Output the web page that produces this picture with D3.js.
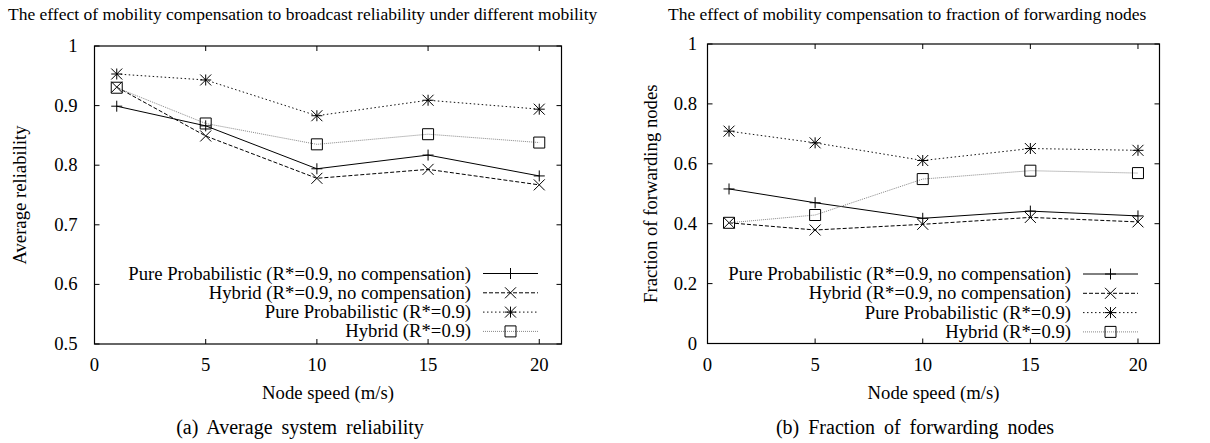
<!DOCTYPE html>
<html>
<head>
<meta charset="utf-8">
<script src="https://cdn.jsdelivr.net/npm/d3@7"></script>
<style>
  body { margin: 0; background: #fff; }
</style>
</head>
<body>
<svg id="chart" width="1210" height="443" font-family="'Liberation Serif', 'Times New Roman', Times, 'DejaVu Serif', serif"></svg>
<script>
// node speed (m/s)
const speeds = [1, 5, 10, 15, 20];

const seriesNames = [
    "Pure Probabilistic (R*=0.9, no compensation)",
    "Hybrid (R*=0.9, no compensation)",
    "Pure Probabilistic (R*=0.9)",
    "Hybrid (R*=0.9)"
];

// (a) average reliability
const relPureNoComp   = [0.899, 0.866, 0.794, 0.817, 0.782];
const relHybridNoComp = [0.931, 0.849, 0.778, 0.793, 0.767];
const relPureComp     = [0.953, 0.943, 0.883, 0.909, 0.894];
const relHybridComp   = [0.930, 0.870, 0.835, 0.852, 0.838];

// (b) fraction of forwarding nodes
const fwdPureNoComp   = [0.516, 0.470, 0.418, 0.442, 0.426];
const fwdHybridNoComp = [0.403, 0.379, 0.398, 0.421, 0.406];
const fwdPureComp     = [0.709, 0.670, 0.611, 0.651, 0.645];
const fwdHybridComp   = [0.403, 0.429, 0.549, 0.577, 0.569];

const xTicks = [0, 5, 10, 15, 20];
const relTicks = [0.5, 0.6, 0.7, 0.8, 0.9, 1];
const fwdTicks = [0, 0.2, 0.4, 0.6, 0.8, 1];

const styles = [
    {marker: "plus",   dash: null,  color: "#000"},
    {marker: "cross",  dash: "4,2", color: "#000"},
    {marker: "star",   dash: "1.5,2.5", color: "#111"},
    {marker: "square", dash: "1,1", color: "#888"}
];

const FS = "18.7px";

function markerPath(type, x, y) {
    const s = 5.5;
    const p = d3.path();
    if (type === "plus" || type === "star") {
        p.moveTo(x - s, y); p.lineTo(x + s, y);
        p.moveTo(x, y - s); p.lineTo(x, y + s);
    }
    if (type === "cross" || type === "star") {
        p.moveTo(x - s, y - s); p.lineTo(x + s, y + s);
        p.moveTo(x - s, y + s); p.lineTo(x + s, y - s);
    }
    if (type === "square") {
        p.rect(x - s, y - s, 2 * s, 2 * s);
    }
    return p.toString();
}

function drawPanel(svg, area, cfg) {
    const scaleX = d3.scaleLinear().domain([0, 21]).range([area.left, area.right]);
    const scaleY = d3.scaleLinear().domain(cfg.yDomain).range([area.bottom, area.top]);
    const g = svg.append("g");

    // ticks (gnuplot style: inward, mirrored)
    const tl = 5;
    cfg.yTicks.forEach(t => {
        g.append("line").attr("x1", area.left).attr("x2", area.left + tl)
            .attr("y1", scaleY(t)).attr("y2", scaleY(t)).attr("stroke", "#000");
        g.append("line").attr("x1", area.right).attr("x2", area.right - tl)
            .attr("y1", scaleY(t)).attr("y2", scaleY(t)).attr("stroke", "#000");
        g.append("text").attr("x", area.left - area.labelGap).attr("y", scaleY(t) + 6)
            .attr("text-anchor", "end").style("font-size", FS).text(t);
    });
    xTicks.forEach(t => {
        g.append("line").attr("x1", scaleX(t)).attr("x2", scaleX(t))
            .attr("y1", area.bottom).attr("y2", area.bottom - tl).attr("stroke", "#000");
        g.append("line").attr("x1", scaleX(t)).attr("x2", scaleX(t))
            .attr("y1", area.top).attr("y2", area.top + tl).attr("stroke", "#000");
        g.append("text").attr("x", scaleX(t)).attr("y", 371)
            .attr("text-anchor", "middle").style("font-size", FS).text(t);
    });

    g.append("rect")
        .attr("x", area.left).attr("y", area.top)
        .attr("width", area.right - area.left).attr("height", area.bottom - area.top)
        .attr("fill", "none").attr("stroke", "#000").attr("stroke-width", 1.2);

    // series
    cfg.series.forEach((vals, i) => {
        const st = styles[i];
        const pts = speeds.map((s, k) => [s, vals[k]]);
        const line = d3.line().x(d => scaleX(d[0])).y(d => scaleY(d[1]));
        g.append("path").datum(pts)
            .attr("d", line).attr("fill", "none")
            .attr("stroke", st.color).attr("stroke-width", 1)
            .attr("stroke-dasharray", st.dash);
        pts.forEach(d => {
            g.append("path").attr("d", markerPath(st.marker, scaleX(d[0]), scaleY(d[1])))
                .attr("fill", "none").attr("stroke", "#000").attr("stroke-width", 1);
        });
    });

    // legend
    seriesNames.forEach((name, i) => {
        const st = styles[i];
        const y = area.legendY + i * 19.3;
        g.append("text").attr("x", area.legendX).attr("y", y + 6)
            .attr("text-anchor", "end").style("font-size", FS).text(name);
        const x1 = area.legendX + 12, x2 = area.legendX + 67;
        g.append("line").attr("x1", x1).attr("x2", x2).attr("y1", y).attr("y2", y)
            .attr("stroke", st.color).attr("stroke-width", 1)
            .attr("stroke-dasharray", st.dash);
        g.append("path").attr("d", markerPath(st.marker, (x1 + x2) / 2, y))
            .attr("fill", "none").attr("stroke", "#000");
    });

    // labels
    g.append("text").attr("x", area.titleX).attr("y", 20)
        .style("font-size", "17.5px").text(cfg.title);
    g.append("text")
        .attr("transform", `translate(${area.yLabelX}, ${(area.top + area.bottom) / 2}) rotate(-90)`)
        .attr("text-anchor", "middle").style("font-size", FS).text(cfg.yLabel);
    g.append("text").attr("x", (area.left + area.right) / 2).attr("y", 399)
        .attr("text-anchor", "middle").style("font-size", FS).text("Node speed (m/s)");
    g.append("text").attr("x", area.captionX).attr("y", 434)
        .attr("text-anchor", "middle").style("font-size", "20px").style("word-spacing", "4px")
        .text(cfg.caption);
}

const svg = d3.select("#chart");

drawPanel(svg,
    {left: 94.5, right: 561.5, top: 46, bottom: 344, legendX: 471, legendY: 273.5,
     titleX: 8, yLabelX: 26, captionX: 300, labelGap: 17},
    {yDomain: [0.5, 1], yTicks: relTicks, series: [relPureNoComp, relHybridNoComp, relPureComp, relHybridComp],
     title: "The effect of mobility compensation to broadcast reliability under different mobility",
     yLabel: "Average reliability", caption: "(a)  Average system reliability"});

drawPanel(svg,
    {left: 707.5, right: 1159.5, top: 44, bottom: 343.5, legendX: 1071, legendY: 274,
     titleX: 668, yLabelX: 657, captionX: 915, labelGap: 10.5},
    {yDomain: [0, 1], yTicks: fwdTicks, series: [fwdPureNoComp, fwdHybridNoComp, fwdPureComp, fwdHybridComp],
     title: "The effect of mobility compensation to fraction of forwarding nodes",
     yLabel: "Fraction of forwarding nodes", caption: "(b)  Fraction of forwarding nodes"});
</script>
</body>
</html>
